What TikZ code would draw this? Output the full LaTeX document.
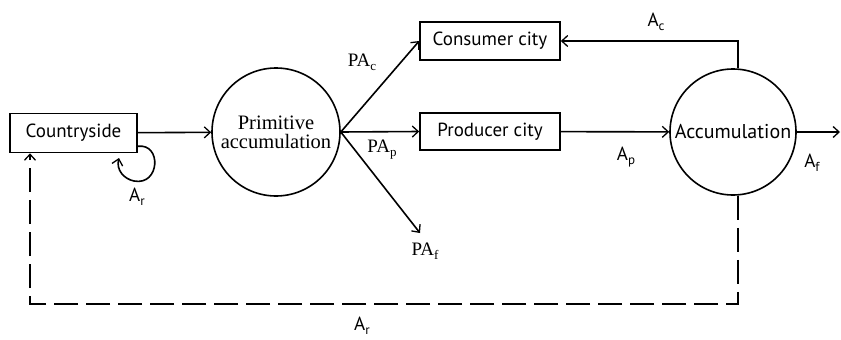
\documentclass[tikz,border=0pt]{standalone}
\usepackage{fontspec}
\setmainfont{Liberation Serif}
\newfontfamily\gillish{PT Sans}
\usetikzlibrary{arrows.meta}
% lowered subscript, as in the printed labels
\newcommand{\lowsub}[1]{\raisebox{-0.45ex}{\fontsize{13}{13}\selectfont #1}}

\begin{document}
\begin{tikzpicture}[x=1pt,y=-1pt,line width=1.6pt,
  flow/.style={-{Straight Barb[length=6pt,width=11pt,line width=1.3pt]}},
  stock/.style={draw,rectangle,inner sep=0pt,font=\gillish\fontsize{19}{21}\selectfont},
  pool/.style={draw,circle,inner sep=0pt,align=center},
  lbl/.style={inner sep=0pt,font=\gillish\fontsize{19}{21}\selectfont},
  plbl/.style={inner sep=0pt,font=\fontsize{19}{21}\selectfont},
  retn/.style={dash pattern=on 24pt off 8pt}]
\useasboundingbox (0,0) rectangle (841,340);

% stocks and pools
\node[stock,minimum width=127pt,minimum height=39pt] (cs) at (73.5,133) {Countryside};
\node[pool,minimum size=128pt,font=\fontsize{20.5}{22}\selectfont] (pa) at (276,132)
  {Primitive\\[-3pt]accumulation};
\node[stock,minimum width=140pt,minimum height=38pt] (cc) at (490,41) {Consumer city};
\node[stock,minimum width=140pt,minimum height=37pt] (pc) at (490,131.5) {Producer city};
\node[pool,minimum size=126pt,font=\gillish\fontsize{20}{22}\selectfont] (ac) at (733,132) {Accumulation};

% free ends
\coordinate (paf) at (420,233);
\coordinate (aout) at (840,132);
\coordinate (ret) at (30,304);

% flows
\draw[flow] (cs) -- (pa);
\draw[flow] (pa.east) -- (cc.west);
\draw[flow] (pa.east) -- (pc.west);
\draw[flow] (pa.east) -- (paf);
\draw[flow] (pc) -- (ac);
\draw[flow] (ac) -- (aout);
\draw[flow] ([xshift=5pt]ac.north) |- (cc.east);
\draw[flow,retn] ([xshift=5pt]ac.south) |- (ret) -- (ret |- cs.south);

% reinvestment loop in the countryside
\draw[flow] ([yshift=7pt]cs.south east) .. controls (162,143) and (160,186) .. (134,181)
  .. controls (124,179) and (116,170) .. (119,158);

% labels
\node[plbl] at (362,62) {PA\lowsub{c}};
\node[plbl] at (382,150) {PA\lowsub{p}};
\node[plbl] at (425,251) {PA\lowsub{f}};
\node[lbl] at (656,22) {A\lowsub{c}};
\node[lbl] at (626,157) {A\lowsub{p}};
\node[lbl] at (812,163) {A\lowsub{f}};
\node[lbl] at (137,197) {A\lowsub{r}};
\node[lbl] at (362,326) {A\lowsub{r}};
\end{tikzpicture}
\end{document}
